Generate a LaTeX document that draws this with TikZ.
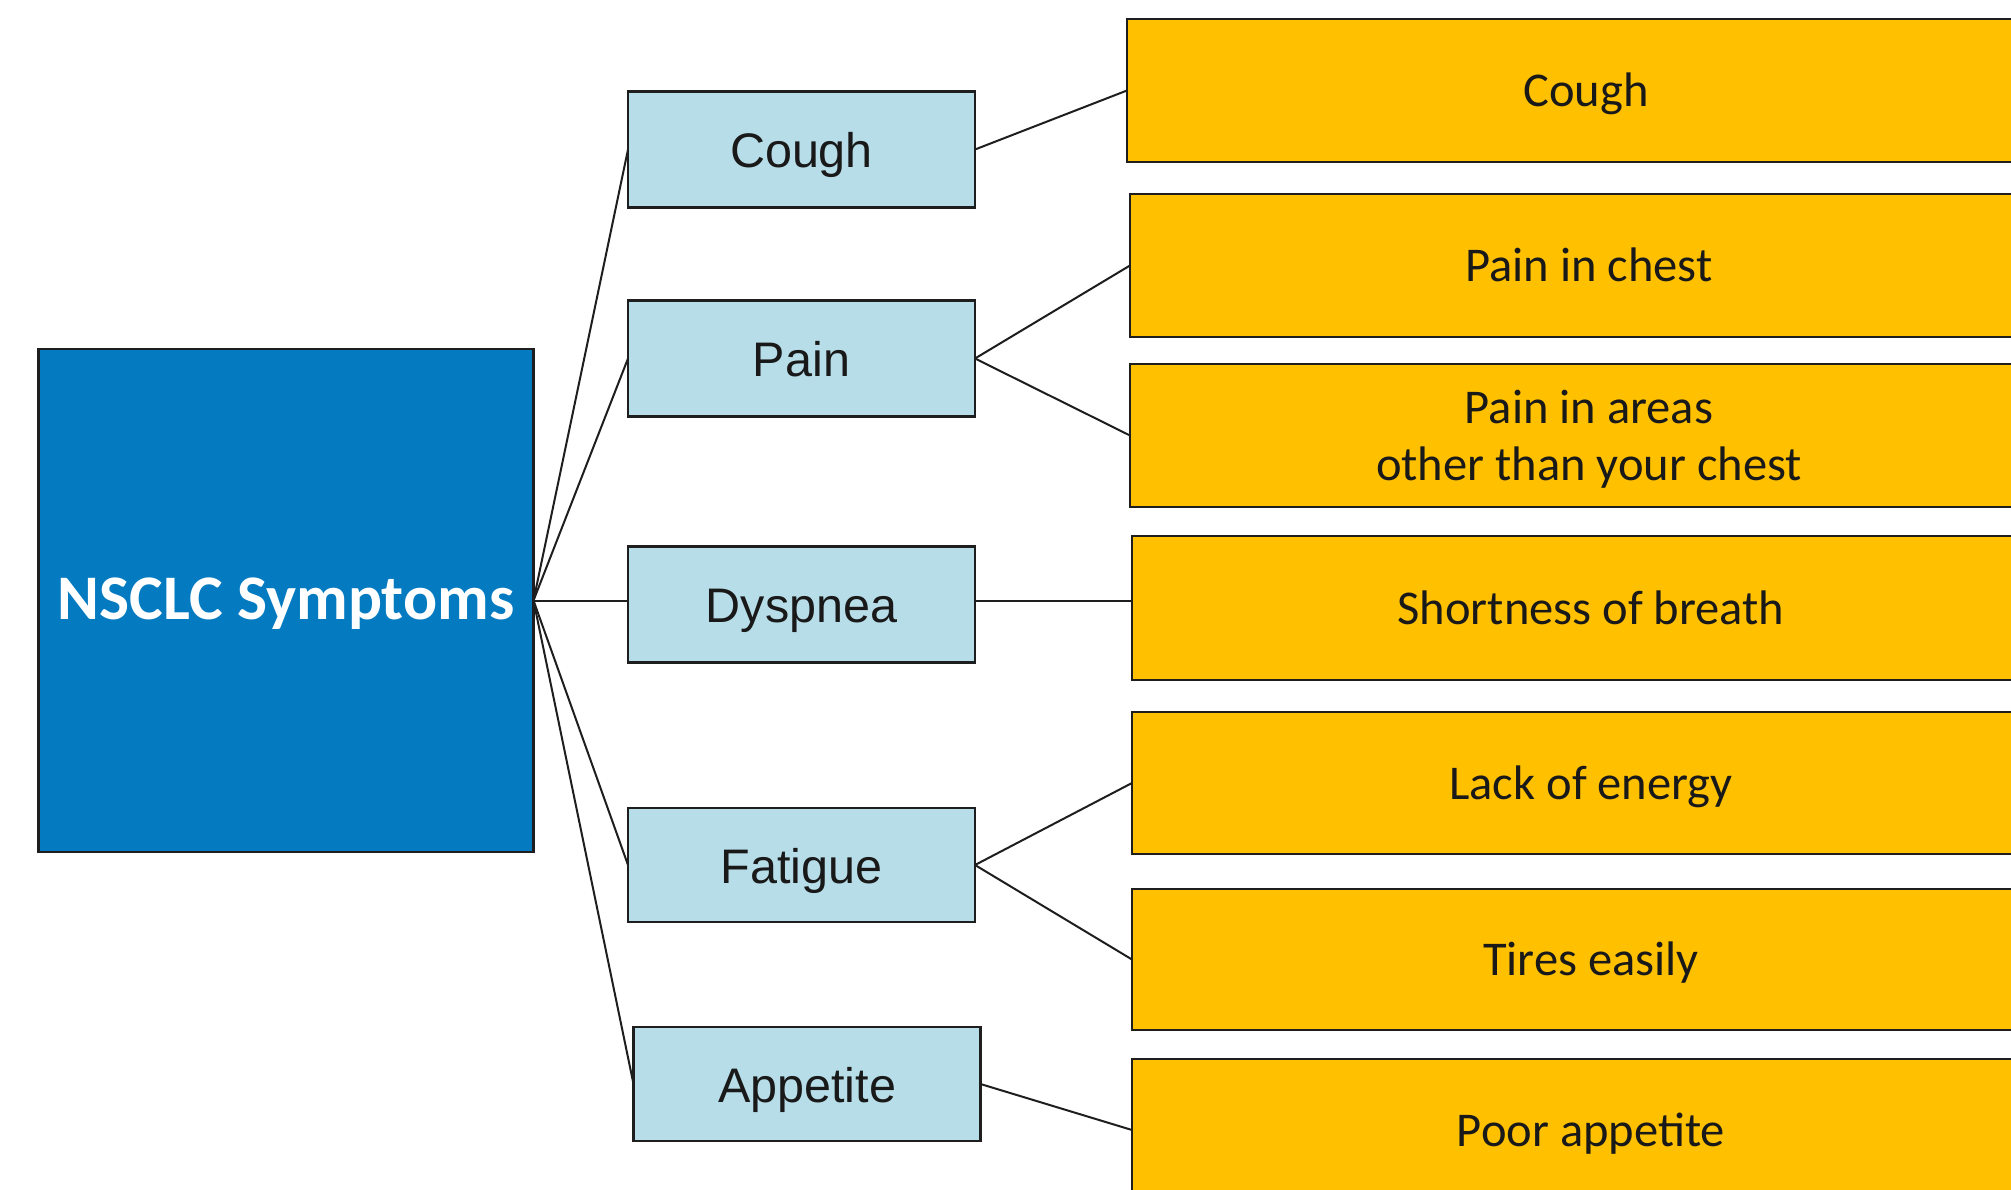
\documentclass[tikz,border=0pt]{standalone}
\usepackage{fontspec}
\setmainfont{Carlito}
\newfontfamily\arialf{Liberation Sans}
\definecolor{mainblue}{RGB}{4,123,193}
\definecolor{midblue}{RGB}{183,221,232}
\definecolor{orangey}{RGB}{255,192,0}
\definecolor{edge}{RGB}{30,30,30}
\begin{document}
\begin{tikzpicture}[x=1pt,y=-1pt,
  box/.style={rectangle,draw=edge,line width=2.6pt,inner sep=0pt,outer sep=0pt},
  mainbox/.style={box,fill=mainblue,minimum width=495pt,minimum height=503pt,
     text=white,text height=41pt,text depth=4pt,font=\fontsize{63.5}{70}\selectfont\bfseries},
  midbox/.style={box,fill=midblue,minimum width=347pt,minimum height=116pt,
     text=black!90,text height=36pt,text depth=0pt,font=\arialf\fontsize{48.5}{56}\selectfont},
  leafbox/.style={box,fill=orangey,minimum width=918pt,minimum height=142pt,
     text=black!90,align=center,text height=32pt,text depth=0pt,font=\fontsize{48.5}{57}\selectfont},
  conn/.style={draw=edge,line width=2pt}]
\useasboundingbox (0,0) rectangle (2011,1190);
\begin{scope}
\clip (0,0) rectangle (2011,1190);
\node[mainbox] (main) at (286,600.5) {NSCLC Symptoms};
\node[midbox] (cough) at (801.5,149.5) {Cough};
\node[midbox] (pain) at (801.5,358.5) {Pain};
\node[midbox] (dysp) at (801.5,604.5) {Dyspnea};
\node[midbox,minimum height=114pt] (fat) at (801.5,865) {Fatigue};
\node[midbox,minimum height=114pt] (app) at (807,1084) {Appetite};
\node[leafbox,minimum height=143pt] (lcough) at (1586,90.5) {Cough};
\node[leafbox,minimum height=143pt] (lchest) at (1589,265.5) {Pain in chest};
\node[leafbox,minimum height=143pt,text height=89pt,text depth=0pt] (lareas) at (1589,435.5) {Pain in areas\\other than your chest};
\node[leafbox,minimum height=144pt] (lbreath) at (1591,608) {Shortness of breath};
\node[leafbox] (lenergy) at (1591,783) {Lack of energy};
\node[leafbox,minimum height=141pt] (ltires) at (1591,959.5) {Tires easily};
\node[leafbox] (lpoor) at (1591,1130) {Poor appetite};
\draw[conn] (main.east) -- (cough.west);
\draw[conn] (main.east) -- (pain.west);
\draw[conn] (main.east) -- (main.east -| dysp.west);
\draw[conn] (main.east) -- (fat.west);
\draw[conn] (main.east) -- (app.west);
\draw[conn] (cough.east) -- (lcough.west);
\draw[conn] (pain.east) -- (lchest.west);
\draw[conn] (pain.east) -- (lareas.west);
\draw[conn] (main.east -| dysp.east) -- (main.east -| lbreath.west);
\draw[conn] (fat.east) -- (lenergy.west);
\draw[conn] (fat.east) -- (ltires.west);
\draw[conn] (app.east) -- (lpoor.west);
\end{scope}
\end{tikzpicture}
\end{document}
